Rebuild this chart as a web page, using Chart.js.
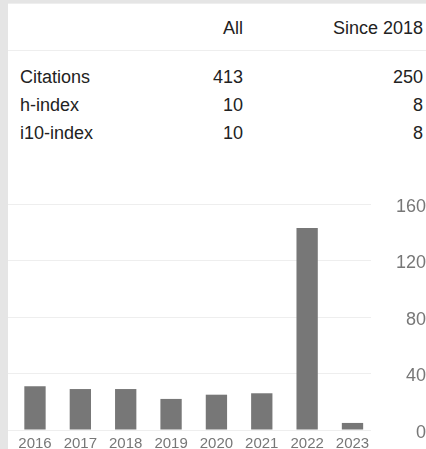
<!DOCTYPE html>
<html>
<head>
<meta charset="utf-8">
<script src="https://cdn.jsdelivr.net/npm/chart.js@4/dist/chart.umd.min.js"></script>
<style>
  html, body { margin: 0; padding: 0; }
  body {
    position: relative;
    width: 426px;
    height: 449px;
    overflow: hidden;
    background: #e5e5e5;
    font-family: "Liberation Sans", Arial, sans-serif;
    color: #222;
  }
  .panel {
    position: absolute;
    left: 8px; top: 3px; right: 0; bottom: 0;
    background: #fff;
    border-top: 1px solid #eee;
  }
  .sep {
    position: absolute;
    left: 8px; right: 0; top: 50px;
    height: 1px;
    background: #eee;
  }
  .cell {
    position: absolute;
    font-size: 18px;
    line-height: 20px;
    white-space: nowrap;
  }
  .lbl { left: 20px; }
  .all { right: 183px; text-align: right; }
  .since { right: 3px; text-align: right; }
  #chartWrap {
    position: absolute;
    left: 8px; top: 190px;
    width: 418px; height: 259px;
  }
  #chartWrap canvas { display: block; }
</style>
</head>
<body>
<div class="panel"></div>
<div class="sep"></div>
<div id="stats"></div>
<div id="chartWrap"><canvas id="citeChart" width="418" height="259"></canvas></div>

<script>
/* ---------- data ---------- */
const colHeaders = ["All", "Since 2018"];
const statLabels = ["Citations", "h-index", "i10-index"];
const statAll = [413, 10, 10];
const statSince = [250, 8, 8];

const years = [2016, 2017, 2018, 2019, 2020, 2021, 2022, 2023];
const citations = [31, 29, 29, 22, 25, 26, 143, 5];
const yTicks = [0, 40, 80, 120, 160];

/* ---------- stats table ---------- */
const stats = document.getElementById("stats");
const headerTop = 18;
const rowTops = [67, 95, 123];

let html = `<div class="cell all" style="top:${headerTop}px">${colHeaders[0]}</div>
<div class="cell since" style="top:${headerTop}px">${colHeaders[1]}</div>`;
statLabels.forEach((label, i) => {
  html += `<div class="cell lbl" style="top:${rowTops[i]}px">${label}</div>
<div class="cell all" style="top:${rowTops[i]}px">${statAll[i]}</div>
<div class="cell since" style="top:${rowTops[i]}px">${statSince[i]}</div>`;
});
stats.innerHTML = html;

/* ---------- chart ---------- */
const font = "'Liberation Sans', Arial, sans-serif";
const axisGray = "#777";

new Chart(document.getElementById("citeChart"), {
  type: "bar",
  data: {
    labels: years,
    datasets: [{
      data: citations,
      backgroundColor: "#777777",
      borderWidth: 0,
      barPercentage: 0.47,
      categoryPercentage: 1,
    }],
  },
  options: {
    responsive: false,
    animation: false,
    layout: { padding: { top: 14, left: 0, right: 0, bottom: 0 } },
    plugins: {
      legend: { display: false },
      tooltip: { enabled: false },
    },
    scales: {
      x: {
        type: "linear",
        offset: false,
        min: 2015.405,
        max: 2023.408,
        grid: { display: false, offset: false },
        border: { display: false },
        afterBuildTicks: (s) => { s.ticks = years.map((v) => ({ value: v })); },
        afterFit: (s) => {
          s.height = 19;
          s.paddingLeft = 0;
          s.paddingRight = 0;
        },
        ticks: {
          padding: -3,
          color: axisGray,
          autoSkip: false,
          maxRotation: 0,
          font: { family: font, size: 15 },
          callback: (v) => String(v),
        },
      },
      y: {
        position: "right",
        min: 0,
        max: 160,
        afterBuildTicks: (s) => { s.ticks = yTicks.map((v) => ({ value: v })); },
        afterFit: (s) => {
          // labels sit right-aligned at the far edge; keep the plot height fixed
          s.width = 55;
          s.paddingTop = 0;
          s.paddingBottom = 0;
        },
        grid: { color: "#eeeeee", drawTicks: false },
        border: { display: false },
        ticks: {
          crossAlign: "far",
          padding: 22,
          labelOffset: 3,
          color: axisGray,
          font: { family: font, size: 18 },
        },
      },
    },
  },
});
</script>
</body>
</html>
